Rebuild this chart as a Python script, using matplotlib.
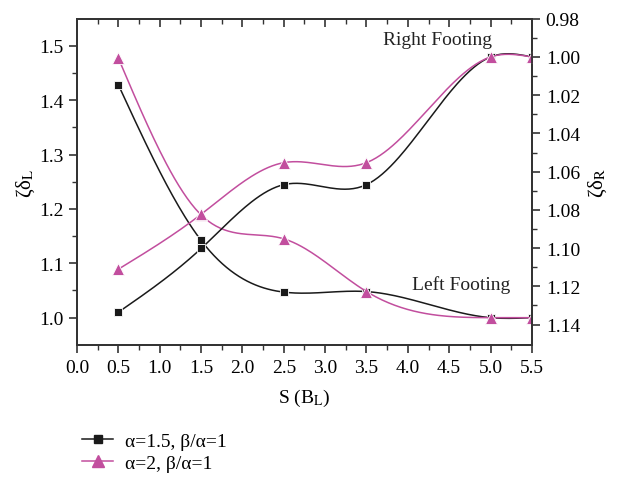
import matplotlib
matplotlib.use('Agg')
import matplotlib.pyplot as plt
import numpy as np

plt.rcParams['font.family'] = ['Liberation Serif', 'DejaVu Serif']
plt.rcParams['mathtext.fontset'] = 'stix'

# data
s = [0.5, 1.5, 2.5, 3.5, 5.0, 5.5]
left_a15 = [1.428, 1.142, 1.047, 1.048, 1.0, 1.0]     # left footing, left axis
left_a2 = [1.477, 1.189, 1.145, 1.048, 1.0, 1.0]
right_a15 = [1.1335, 1.1002, 1.0668, 1.0668, 1.0, 1.0]  # right footing, right axis
right_a2 = [1.111, 1.0823, 1.0553, 1.0553, 1.0, 1.0]
xticks = np.arange(0, 5.51, 0.5)
lticks = [1.0, 1.1, 1.2, 1.3, 1.4, 1.5]
rticks = [0.98, 1.00, 1.02, 1.04, 1.06, 1.08, 1.10, 1.12, 1.14]

black = '#1a1a1a'
mag = '#c24e9e'


def spline(x, y, n=200):
    # natural cubic spline through the points
    x = np.asarray(x, float); y = np.asarray(y, float)
    k = len(x); h = np.diff(x)
    A = np.zeros((k, k)); b = np.zeros(k)
    A[0, 0] = 1; A[-1, -1] = 1
    for i in range(1, k - 1):
        A[i, i - 1] = h[i - 1]; A[i, i] = 2 * (h[i - 1] + h[i]); A[i, i + 1] = h[i]
        b[i] = 6 * ((y[i + 1] - y[i]) / h[i] - (y[i] - y[i - 1]) / h[i - 1])
    M = np.linalg.solve(A, b)
    xs = np.linspace(x[0], x[-1], n)
    j = np.clip(np.searchsorted(x, xs) - 1, 0, k - 2)
    t0 = x[j + 1] - xs; t1 = xs - x[j]
    ys = (M[j] * t0**3 + M[j + 1] * t1**3) / (6 * h[j]) \
        + (y[j] / h[j] - M[j] * h[j] / 6) * t0 + (y[j + 1] / h[j] - M[j + 1] * h[j] / 6) * t1
    return xs, ys


fig = plt.figure(figsize=(6.17, 4.81), dpi=100)
ax = fig.add_axes([0.125, 0.281, 0.737, 0.678])
ax2 = ax.twinx()

for a, y, c, m, ms in [(ax, left_a15, black, 's', 6), (ax, left_a2, mag, '^', 8),
                       (ax2, right_a15, black, 's', 6), (ax2, right_a2, mag, '^', 8)]:
    xs, ys = spline(s, y)
    a.plot(xs, ys, color=c, lw=1.1)
    a.plot(s, y, ls='none', marker=m, ms=ms, color=c, mec='white', mew=0.6)

ax.set_xlim(0, 5.5)
ax.set_ylim(0.95, 1.55)
ax2.set_ylim(1.1506, 0.98)
ax.set_xticks(xticks)
ax.set_xticks(np.arange(0.25, 5.5, 0.5), minor=True)
ax.set_yticks(lticks)
ax.set_yticks(np.arange(1.05, 1.55, 0.1), minor=True)
ax2.set_yticks(rticks)
ax2.set_yticks(np.arange(0.99, 1.15, 0.02), minor=True)
ax.set_xticklabels(['%.1f' % v for v in xticks])
ax.set_yticklabels(['%.1f' % v for v in lticks])
ax2.set_yticklabels(['%.2f' % v for v in rticks])

for a in (ax, ax2):
    for sp in a.spines.values():
        sp.set_color('#333333'); sp.set_linewidth(1.3)
    a.tick_params(which='major', length=6, width=1.2, color='#333333', labelsize=14, pad=4)
    a.tick_params(which='minor', length=3.5, width=1.0, color='#333333')
ax.tick_params(axis='x', which='both', direction='out', top=False)
ax.tick_params(axis='y', which='both', direction='out')
ax2.tick_params(axis='y', which='both', direction='out')

# inward ticks on the top spine, drawn by the twin's x axis
ax2.xaxis.set_visible(True)
ax2.tick_params(axis='x', which='both', direction='in', top=True, bottom=False,
                labeltop=False, labelbottom=False)

ax.set_xlabel('S (B$_\\mathrm{L}$)', fontsize=14, labelpad=8)
ax.set_ylabel('ζδ$_\\mathrm{L}$', fontsize=15, labelpad=1)
ax2.set_ylabel('ζδ$_\\mathrm{R}$', fontsize=15, labelpad=5, rotation=90)

ax.text(4.36, 1.511, 'Right Footing', fontsize=14, ha='center', va='center', color='#222222')
ax.text(4.65, 1.061, 'Left Footing', fontsize=14, ha='center', va='center', color='#222222')

h1, = ax.plot([], [], color=black, marker='s', ms=6, lw=1.1)
h2, = ax.plot([], [], color=mag, marker='^', ms=8, lw=1.1)
fig.legend([h1, h2], ['α=1.5, β/α=1', 'α=2, β/α=1'], loc='upper left',
           bbox_to_anchor=(0.105, 0.135), frameon=False, fontsize=14,
           handlelength=1.6, labelspacing=0.2, handletextpad=0.6)

fig.savefig('out.png', dpi=100)
